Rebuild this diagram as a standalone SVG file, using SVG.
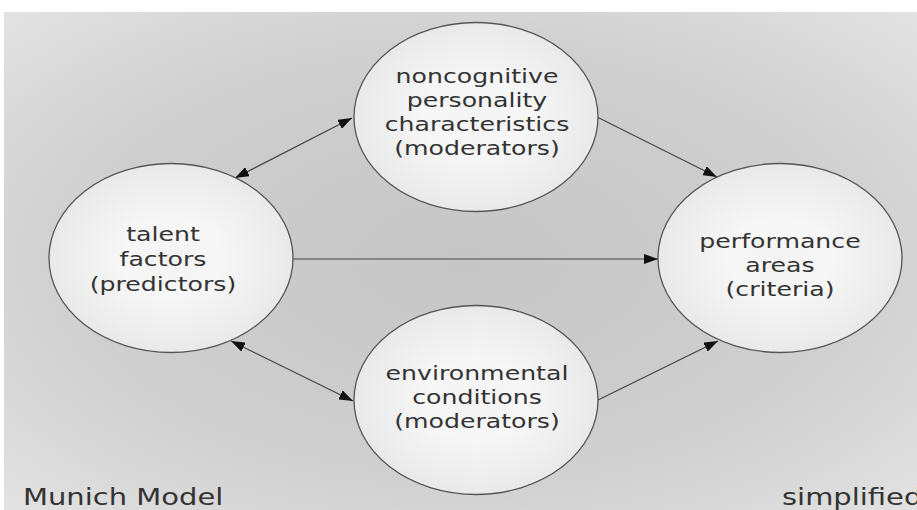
<svg xmlns="http://www.w3.org/2000/svg" width="917" height="510" viewBox="0 0 917 510">
  <defs>
    <radialGradient id="bg" cx="50%" cy="50%" r="70%">
      <stop offset="0" stop-color="#c6c6c6"/>
      <stop offset="0.6" stop-color="#cfcfcf"/>
      <stop offset="1" stop-color="#e2e2e2"/>
    </radialGradient>
    <radialGradient id="node" cx="50%" cy="50%" r="50%">
      <stop offset="0" stop-color="#f3f3f3"/>
      <stop offset="0.4" stop-color="#f7f7f7"/>
      <stop offset="1" stop-color="#e9e9e9"/>
    </radialGradient>
    <marker id="ah" viewBox="0 0 14 10" refX="14" refY="5" markerWidth="14" markerHeight="10" markerUnits="userSpaceOnUse" orient="auto-start-reverse">
      <path d="M0,0 L14,5 L0,10 Z" fill="#111"/>
    </marker>
  </defs>
  <style>
    .node { fill: url(#node); stroke: #555; stroke-width: 1.3; }
    .lbl { font-family: "DejaVu Sans", Verdana, sans-serif; font-size: 20px; fill: #333; text-anchor: middle; }
    .cap { font-family: "DejaVu Sans", Verdana, sans-serif; font-size: 23px; fill: #333; }
    .edge { stroke: #444; stroke-width: 1.2; fill: none; }
  </style>
  <rect x="0" y="0" width="917" height="510" fill="#ffffff"/>
  <rect x="4" y="12" width="913" height="498" fill="url(#bg)"/>

  <g id="connectors">
    <line class="edge" x1="235" y1="178" x2="352" y2="118" marker-start="url(#ah)" marker-end="url(#ah)"/>
    <line class="edge" x1="231" y1="341" x2="353" y2="401" marker-start="url(#ah)" marker-end="url(#ah)"/>
    <line class="edge" x1="597" y1="117" x2="717" y2="177" marker-end="url(#ah)"/>
    <line class="edge" x1="293" y1="259" x2="658" y2="259" marker-end="url(#ah)"/>
    <line class="edge" x1="598" y1="400" x2="718" y2="341" marker-end="url(#ah)"/>
  </g>

  <g id="node-noncognitive">
    <ellipse class="node" cx="476" cy="117" rx="122" ry="94.5"/>
    <g transform="translate(477,0) scale(1.26,1)">
      <text class="lbl" x="0" y="83">noncognitive</text>
      <text class="lbl" x="0" y="107">personality</text>
      <text class="lbl" x="0" y="131">characteristics</text>
      <text class="lbl" x="0" y="155">(moderators)</text>
    </g>
  </g>

  <g id="node-talent">
    <ellipse class="node" cx="171" cy="258" rx="122" ry="94.5"/>
    <g transform="translate(163,0) scale(1.26,1)">
      <text class="lbl" x="0" y="241">talent</text>
      <text class="lbl" x="0" y="266">factors</text>
      <text class="lbl" x="0" y="291">(predictors)</text>
    </g>
  </g>

  <g id="node-performance">
    <ellipse class="node" cx="780" cy="258" rx="122" ry="94.5"/>
    <g transform="translate(780,0) scale(1.26,1)">
      <text class="lbl" x="0" y="248">performance</text>
      <text class="lbl" x="0" y="272">areas</text>
      <text class="lbl" x="0" y="296">(criteria)</text>
    </g>
  </g>

  <g id="node-environmental">
    <ellipse class="node" cx="476" cy="400" rx="122" ry="94.5"/>
    <g transform="translate(477,0) scale(1.26,1)">
      <text class="lbl" x="0" y="380">environmental</text>
      <text class="lbl" x="0" y="404">conditions</text>
      <text class="lbl" x="0" y="428">(moderators)</text>
    </g>
  </g>

  <g transform="translate(23,505) scale(1.26,1)">
    <text class="cap" x="0" y="0">Munich Model</text>
  </g>
  <g transform="translate(782,505) scale(1.26,1)">
    <text class="cap" x="0" y="0">simplified</text>
  </g>
</svg>
